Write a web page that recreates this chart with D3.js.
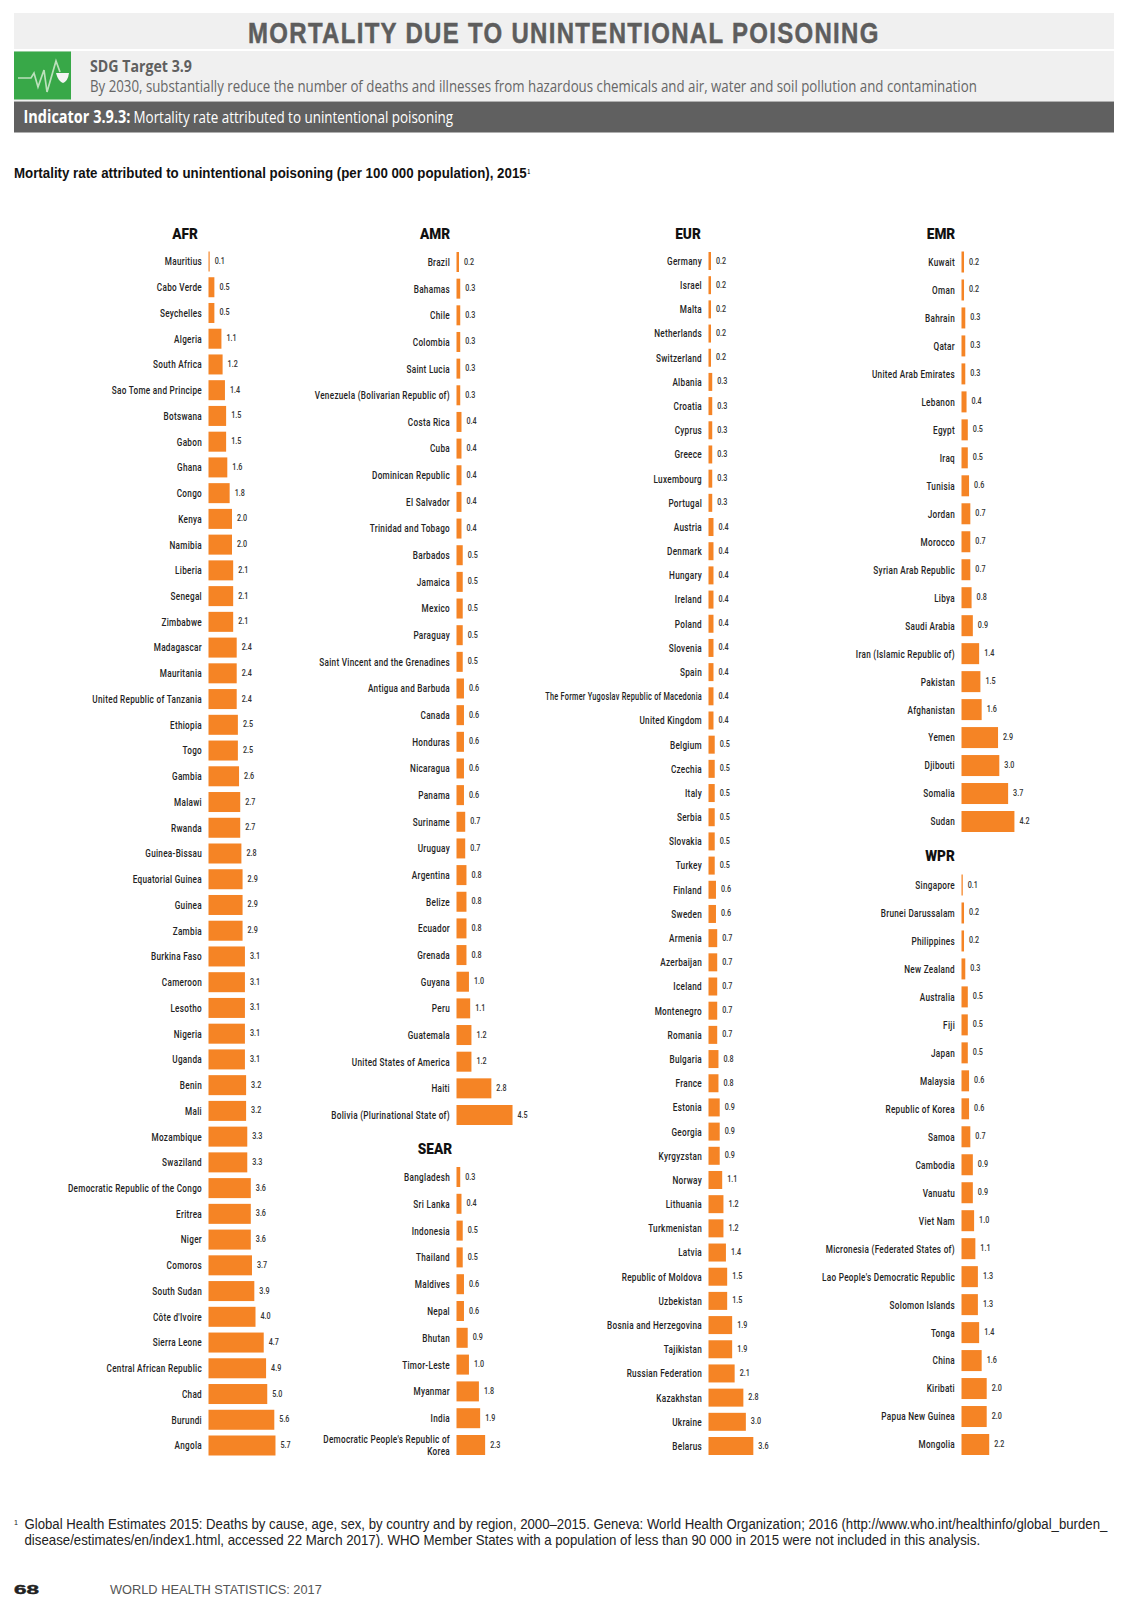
<!DOCTYPE html>
<html><head><meta charset="utf-8">
<script src="https://cdn.jsdelivr.net/npm/d3@7/dist/d3.min.js"></script>
<style>html,body{margin:0;padding:0;background:#fff}svg{display:block}</style>
</head><body><div id="c"></div>
<script>
const afrNames=["Mauritius","Cabo Verde","Seychelles","Algeria","South Africa","Sao Tome and Principe","Botswana","Gabon","Ghana","Congo","Kenya","Namibia","Liberia","Senegal","Zimbabwe","Madagascar","Mauritania","United Republic of Tanzania","Ethiopia","Togo","Gambia","Malawi","Rwanda","Guinea-Bissau","Equatorial Guinea","Guinea","Zambia","Burkina Faso","Cameroon","Lesotho","Nigeria","Uganda","Benin","Mali","Mozambique","Swaziland","Democratic Republic of the Congo","Eritrea","Niger","Comoros","South Sudan","Côte d'Ivoire","Sierra Leone","Central African Republic","Chad","Burundi","Angola"];
const afrValues=[0.1,0.5,0.5,1.1,1.2,1.4,1.5,1.5,1.6,1.8,2.0,2.0,2.1,2.1,2.1,2.4,2.4,2.4,2.5,2.5,2.6,2.7,2.7,2.8,2.9,2.9,2.9,3.1,3.1,3.1,3.1,3.1,3.2,3.2,3.3,3.3,3.6,3.6,3.6,3.7,3.9,4.0,4.7,4.9,5.0,5.6,5.7];
const amrNames=["Brazil","Bahamas","Chile","Colombia","Saint Lucia","Venezuela (Bolivarian Republic of)","Costa Rica","Cuba","Dominican Republic","El Salvador","Trinidad and Tobago","Barbados","Jamaica","Mexico","Paraguay","Saint Vincent and the Grenadines","Antigua and Barbuda","Canada","Honduras","Nicaragua","Panama","Suriname","Uruguay","Argentina","Belize","Ecuador","Grenada","Guyana","Peru","Guatemala","United States of America","Haiti","Bolivia (Plurinational State of)"];
const amrValues=[0.2,0.3,0.3,0.3,0.3,0.3,0.4,0.4,0.4,0.4,0.4,0.5,0.5,0.5,0.5,0.5,0.6,0.6,0.6,0.6,0.6,0.7,0.7,0.8,0.8,0.8,0.8,1.0,1.1,1.2,1.2,2.8,4.5];
const searNames=["Bangladesh","Sri Lanka","Indonesia","Thailand","Maldives","Nepal","Bhutan","Timor-Leste","Myanmar","India","Democratic People's Republic of|Korea"];
const searValues=[0.3,0.4,0.5,0.5,0.6,0.6,0.9,1.0,1.8,1.9,2.3];
const eurNames=["Germany","Israel","Malta","Netherlands","Switzerland","Albania","Croatia","Cyprus","Greece","Luxembourg","Portugal","Austria","Denmark","Hungary","Ireland","Poland","Slovenia","Spain","The Former Yugoslav Republic of Macedonia","United Kingdom","Belgium","Czechia","Italy","Serbia","Slovakia","Turkey","Finland","Sweden","Armenia","Azerbaijan","Iceland","Montenegro","Romania","Bulgaria","France","Estonia","Georgia","Kyrgyzstan","Norway","Lithuania","Turkmenistan","Latvia","Republic of Moldova","Uzbekistan","Bosnia and Herzegovina","Tajikistan","Russian Federation","Kazakhstan","Ukraine","Belarus"];
const eurValues=[0.2,0.2,0.2,0.2,0.2,0.3,0.3,0.3,0.3,0.3,0.3,0.4,0.4,0.4,0.4,0.4,0.4,0.4,0.4,0.4,0.5,0.5,0.5,0.5,0.5,0.5,0.6,0.6,0.7,0.7,0.7,0.7,0.7,0.8,0.8,0.9,0.9,0.9,1.1,1.2,1.2,1.4,1.5,1.5,1.9,1.9,2.1,2.8,3.0,3.6];
const emrNames=["Kuwait","Oman","Bahrain","Qatar","United Arab Emirates","Lebanon","Egypt","Iraq","Tunisia","Jordan","Morocco","Syrian Arab Republic","Libya","Saudi Arabia","Iran (Islamic Republic of)","Pakistan","Afghanistan","Yemen","Djibouti","Somalia","Sudan"];
const emrValues=[0.2,0.2,0.3,0.3,0.3,0.4,0.5,0.5,0.6,0.7,0.7,0.7,0.8,0.9,1.4,1.5,1.6,2.9,3.0,3.7,4.2];
const wprNames=["Singapore","Brunei Darussalam","Philippines","New Zealand","Australia","Fiji","Japan","Malaysia","Republic of Korea","Samoa","Cambodia","Vanuatu","Viet Nam","Micronesia (Federated States of)","Lao People's Democratic Republic","Solomon Islands","Tonga","China","Kiribati","Papua New Guinea","Mongolia"];
const wprValues=[0.1,0.2,0.2,0.3,0.5,0.5,0.5,0.6,0.6,0.7,0.9,0.9,1.0,1.1,1.3,1.3,1.4,1.6,2.0,2.0,2.2];

const W=1127,H=1600,ORANGE="#f58425",HEAD="'Liberation Sans','Roboto',sans-serif",COND="'Open Sans','Noto Sans',sans-serif",GOTH="'Roboto','Liberation Sans',sans-serif";
const svg=d3.select("#c").append("svg").attr("width",W).attr("height",H).attr("viewBox",`0 0 ${W} ${H}`);

// fitted text helper: scales the text horizontally to the width measured on the reference
function fit(x,y,str,len,o={}){
  const t=svg.append("text").attr("font-family",o.f||COND).attr("font-size",o.s||14)
    .attr("font-weight",o.w||400).attr("fill",o.c||"#000").attr("letter-spacing",o.ls||0).text(str);
  if(o.sw) t.attr("stroke",o.c||"#000").attr("stroke-width",o.sw);
  const k=len/t.node().getComputedTextLength();
  return t.attr("transform",`translate(${x},${y}) scale(${k},1)`);
}
// header bands
svg.append("rect").attr("x",14).attr("y",13).attr("width",1100).attr("height",36).attr("fill","#f0f0f0");
svg.append("rect").attr("x",14).attr("y",51).attr("width",1100).attr("height",50).attr("fill","#f0f0f0");
svg.append("rect").attr("x",14).attr("y",101.5).attr("width",1100).attr("height",31).attr("fill","#606060");
svg.append("rect").attr("x",14).attr("y",51.5).attr("width",57).attr("height",48).attr("fill","#38a848");
svg.append("path").attr("d","M18 78H31L34 73L38 87L44 70L47 92L56 61L60 72").attr("fill","none").attr("stroke","#dcefd8").attr("stroke-width",1.7).attr("opacity",.8);
svg.append("path").attr("d","M56 73H69Q68 81 63 83Q58 81 56 73Z").attr("fill","#f4f4f4");

fit(248,43,"MORTALITY DUE TO UNINTENTIONAL POISONING",632,{f:HEAD,s:29,w:700,c:"#5d5d5d",ls:1.6,sw:.5});
fit(90,72,"SDG Target 3.9",102,{s:16.5,w:700,c:"#5f5f5f"});
fit(90,92,"By 2030, substantially reduce the number of deaths and illnesses from hazardous chemicals and air, water and soil pollution and contamination",887,{s:16.5,c:"#666"});
fit(23.5,123,"Indicator 3.9.3:",107,{s:17,w:700,c:"#fff"});
fit(133.5,123,"Mortality rate attributed to unintentional poisoning",320,{s:17,c:"#fff"});
fit(14,178,"Mortality rate attributed to unintentional poisoning (per 100 000 population), 2015",513,{f:HEAD,s:14.5,w:700,c:"#111"});
fit(527.5,174,"1",2.5,{f:HEAD,s:7,w:700,c:"#111"});

// panels: every bar and label is placed through scales and axes
function panel(title,titleX,titleY,names,values,axisX,pxPerUnit,y0,y1,barH){
  const y=d3.scalePoint().domain(names).range([y0,y1]);
  const x=d3.scaleLinear().domain([0,6]).range([axisX,axisX+6*pxPerUnit]);
  const g=svg.append("g");
  g.append("text").attr("x",titleX).attr("y",titleY).attr("text-anchor","middle")
    .attr("font-family",GOTH).attr("font-weight",900).attr("font-size",15.5).attr("fill","#111")
    .attr("transform",`translate(${titleX},0) scale(.88,1) translate(${-titleX},0)`).text(title);
  g.selectAll("rect").data(names).join("rect")
    .attr("x",x(0)).attr("y",d=>y(d)-barH/2)
    .attr("width",(d,i)=>x(values[i])-x(0)).attr("height",barH).attr("fill",ORANGE);
  g.selectAll(".v").data(names).join("text").attr("class","v")
    .attr("transform",(d,i)=>`translate(${x(values[i])+5},${y(d)+2.5}) scale(.8,1)`)
    .attr("font-family",GOTH).attr("font-weight",500).attr("font-size",9).attr("fill","#333")
    .text((d,i)=>d3.format(".1f")(values[i]));
  const ax=g.append("g").attr("transform",`translate(${axisX},0)`)
    .call(d3.axisLeft(y).tickSize(0).tickPadding(0).tickFormat(d=>d));
  ax.select(".domain").remove();
  ax.selectAll(".tick text").each(function(d){
    const t=d3.select(this),parts=String(d).split("|");
    t.text(null).attr("x",null).attr("dy",null).attr("text-anchor","end")
     .attr("font-family",GOTH).attr("font-weight",500).attr("font-size",10).attr("fill","#222")
     .attr("letter-spacing",.35);
    parts.forEach((p,i)=>t.append("tspan").attr("x",0)
      .attr("y",parts.length>1?(i===0?-3:10):3.4).text(p));
    const natural=parts.length>1?0:this.getComputedTextLength();
    const k=Math.min(.82,natural?157/natural:.82);
    t.attr("transform",`translate(-6.5,0) scale(${k},1)`);
  });
}
panel("AFR",185,239,afrNames,afrValues,208.5,11.75,261.5,1445.5,20);
panel("AMR",435,239,amrNames,amrValues,456.5,12.45,262,1115,20);
panel("SEAR",435,1154,searNames,searValues,456.5,12.45,1177,1445,20);
panel("EUR",688,239,eurNames,eurValues,708.5,12.45,261,1446,18);
panel("EMR",941,239,emrNames,emrValues,961.5,12.6,262,821.5,21);
panel("WPR",940,861,wprNames,wprValues,961.5,12.6,885,1444.5,21);

// footnote and page footer
fit(14,1525,"1",4,{f:HEAD,s:8,c:"#222"});
fit(24.5,1529,"Global Health Estimates 2015: Deaths by cause, age, sex, by country and by region, 2000–2015. Geneva: World Health Organization; 2016 (http://www.who.int/healthinfo/global_burden_",1084,{f:HEAD,s:14.5,c:"#222"});
fit(24.5,1545,"disease/estimates/en/index1.html, accessed 22 March 2017). WHO Member States with a population of less than 90 000 in 2015 were not included in this analysis.",957,{f:HEAD,s:14.5,c:"#222"});
fit(14,1594,"68",25,{f:HEAD,s:13,w:700,c:"#222",sw:.4});
fit(110,1594,"WORLD HEALTH STATISTICS: 2017",212,{f:HEAD,s:13,c:"#555"});
</script></body></html>
